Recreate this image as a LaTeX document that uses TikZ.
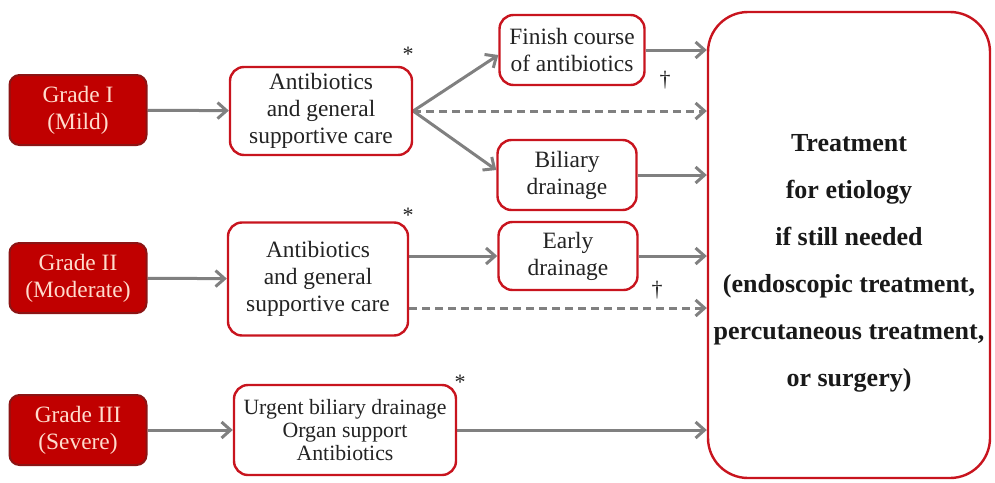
\documentclass[tikz,border=0pt]{standalone}
\usepackage{fontspec}
\setmainfont{Liberation Serif}
\usetikzlibrary{arrows.meta}
\definecolor{gradered}{RGB}{192,0,0}
\definecolor{gradeedge}{RGB}{140,20,20}
\definecolor{gradetext}{RGB}{255,220,205}
\definecolor{boxred}{RGB}{200,20,30}
\definecolor{arrowgray}{RGB}{128,128,128}
\definecolor{textgray}{RGB}{35,35,35}
\pgfdeclarelayer{edgelayer}
\pgfdeclarelayer{nodelayer}
\pgfsetlayers{edgelayer,nodelayer,main}
\tikzstyle{grade}=[rectangle,rounded corners=5pt,fill=gradered,draw=gradeedge,line width=1pt,text=gradetext,align=center,inner sep=0pt,minimum width=68.5pt,minimum height=35pt,font=\fontsize{11.7}{13.5}\selectfont]
\tikzstyle{care}=[rectangle,rounded corners=7pt,fill=white,draw=boxred,line width=1.2pt,text=textgray,align=center,inner sep=0pt,font=\fontsize{11.7}{13.5}\selectfont]
\tikzstyle{goal}=[care,rounded corners=20pt,text=black!90,font=\fontsize{13}{23.5}\selectfont\bfseries]
\tikzstyle{flow}=[-{Straight Barb[length=4.5pt,width=8pt]},draw=arrowgray,line width=1.5pt]
\tikzstyle{maybe}=[flow,dash pattern=on 4pt off 2.5pt]
\tikzstyle{note}=[text=textgray,inner sep=0pt,font=\fontsize{11}{12}\selectfont]

\begin{document}
\begin{tikzpicture}[x=0.5pt,y=-0.5pt]
        \useasboundingbox (0,0) rectangle (995,482);
        \begin{pgfonlayer}{nodelayer}
            \node [style = grade] (g1) at (78,110) {Grade I\\(Mild)};
            \node [style = grade] (g2) at (78,278) {Grade II\\(Moderate)};
            \node [style = grade] (g3) at (78,430) {Grade III\\(Severe)};
            \node [style = care, minimum width=91pt, minimum height=44pt] (ab1) at (321,111) {Antibiotics\\and general\\supportive care};
            \node [style = care, minimum width=90pt, minimum height=56.5pt] (ab2) at (318,279) {Antibiotics\\and general\\supportive care};
            \node [style = care, minimum width=111pt, minimum height=45pt, font=\fontsize{10.9}{11.5}\selectfont] (urgent) at (345,430) {Urgent biliary drainage\\Organ support\\Antibiotics};
            \node [style = care, minimum width=72.5pt, minimum height=35pt] (finish) at (572,50) {Finish course\\of antibiotics};
            \node [style = care, minimum width=69.5pt, minimum height=35pt] (biliary) at (567,175) {Biliary\\drainage};
            \node [style = care, minimum width=69.5pt, minimum height=34pt] (early) at (568,256) {Early\\drainage};
            \node [style = goal, minimum width=141pt, minimum height=233pt] (big) at (849,245) {\rule{0pt}{27pt}Treatment\\for etiology\\if still needed\\(endoscopic treatment,\\percutaneous treatment,\\or surgery)};
            \node [style = note] (s1) at (408,54) {*};
            \node [style = note] (s2) at (408,215) {*};
            \node [style = note] (s3) at (460,382) {*};
            \node [style = note] (t1) at (665,80) {\textdagger};
            \node [style = note] (t2) at (657,290) {\textdagger};
            \coordinate (d2) at ([yshift=-14.5pt]ab2.east);
        \end{pgfonlayer}

        \begin{pgfonlayer}{edgelayer}
            \draw [style = flow] (g1) to (ab1);
            \draw [style = flow] (ab1.east) to ([yshift=-2.5pt]finish.west);
            \draw [style = flow] (ab1.east) to ([yshift=2.5pt]biliary.west);
            \draw [style = maybe] (ab1.east) to (ab1.east -| big.west);
            \draw [style = flow] (finish) to (finish -| big.west);
            \draw [style = flow] (biliary) to (biliary -| big.west);
            \draw [style = flow] (g2) to (ab2);
            \draw [style = flow] (ab2.east |- early.west) to (early.west);
            \draw [style = flow] (early) to (early -| big.west);
            \draw [style = maybe] (d2) to (d2 -| big.west);
            \draw [style = flow] (g3) to (urgent);
            \draw [style = flow] (urgent) to (urgent -| big.west);
        \end{pgfonlayer}
    \end{tikzpicture}
\end{document}
